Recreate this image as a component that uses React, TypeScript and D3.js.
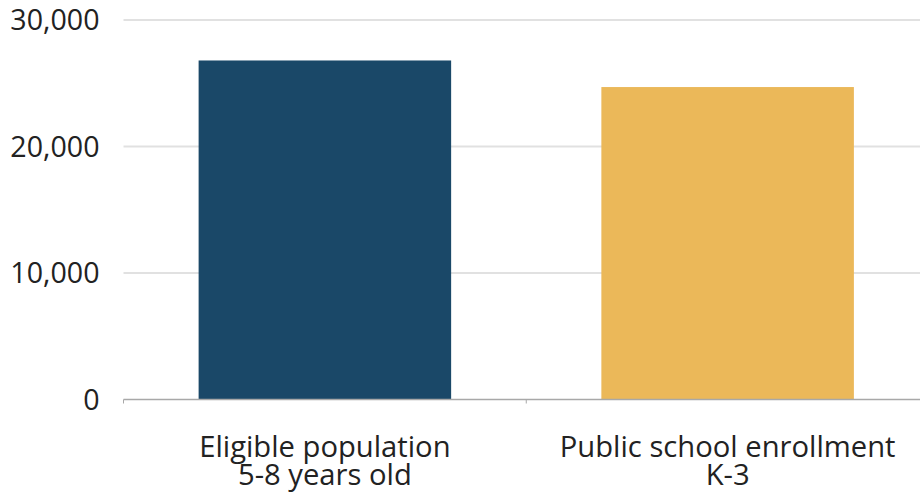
import React from "react";
import * as d3 from "d3";

const categories = ["Eligible population|5-8 years old", "Public school enrollment|K-3"];
const values = [26800, 24700];
const colors = ["#1a4868", "#ebb859"];
const yTicks = [0, 10000, 20000, 30000];

const W = 920;
const H = 495;

export default function App() {
  const y = d3.scaleLinear().domain([0, 30000]).range([399.5, 20]);
  const x = d3
    .scaleBand<string>()
    .domain(categories)
    .range([123.5, 929])
    .paddingInner(0.373)
    .paddingOuter(0.1865);
  const step = x.step();
  const fmt = d3.format(",");
  const font = "'Open Sans', sans-serif";
  const boundaries = categories.map((c) => (x(c) as number) - (step * 0.373) / 2);

  return (
    <svg
      width={W}
      height={H}
      style={{ position: "absolute", left: 0, top: 0, background: "#fff" }}
      fontFamily={font}
    >
      {yTicks.map((t) => (
        <g key={t}>
          {t !== 0 && (
            <line x1={123.5} x2={W} y1={y(t)} y2={y(t)} stroke="#e1e1e1" strokeWidth={2} />
          )}
          <text x={99.5} y={y(t)} dy="0.36em" textAnchor="end" fontSize={28.6} fill="#222">
            {fmt(t)}
          </text>
        </g>
      ))}
      {categories.map((c, i) => (
        <rect
          key={c}
          x={x(c)}
          width={x.bandwidth()}
          y={y(values[i])}
          height={y(0) - y(values[i])}
          fill={colors[i]}
        />
      ))}
      <line x1={123.5} x2={W} y1={y(0)} y2={y(0)} stroke="#a8a8a8" strokeWidth={1.5} />
      {boundaries.map((b, i) => (
        <line key={i} x1={b} x2={b} y1={y(0)} y2={y(0) + 4} stroke="#a8a8a8" strokeWidth={1} />
      ))}
      {categories.map((c) => {
        const lines = c.split("|");
        const cx = (x(c) as number) + x.bandwidth() / 2;
        return (
          <text key={c} x={cx} textAnchor="middle" fontSize={29.2} fill="#222">
            {lines.map((l, j) => (
              <tspan key={j} x={cx} y={457 + j * 28}>
                {l}
              </tspan>
            ))}
          </text>
        );
      })}
    </svg>
  );
}
